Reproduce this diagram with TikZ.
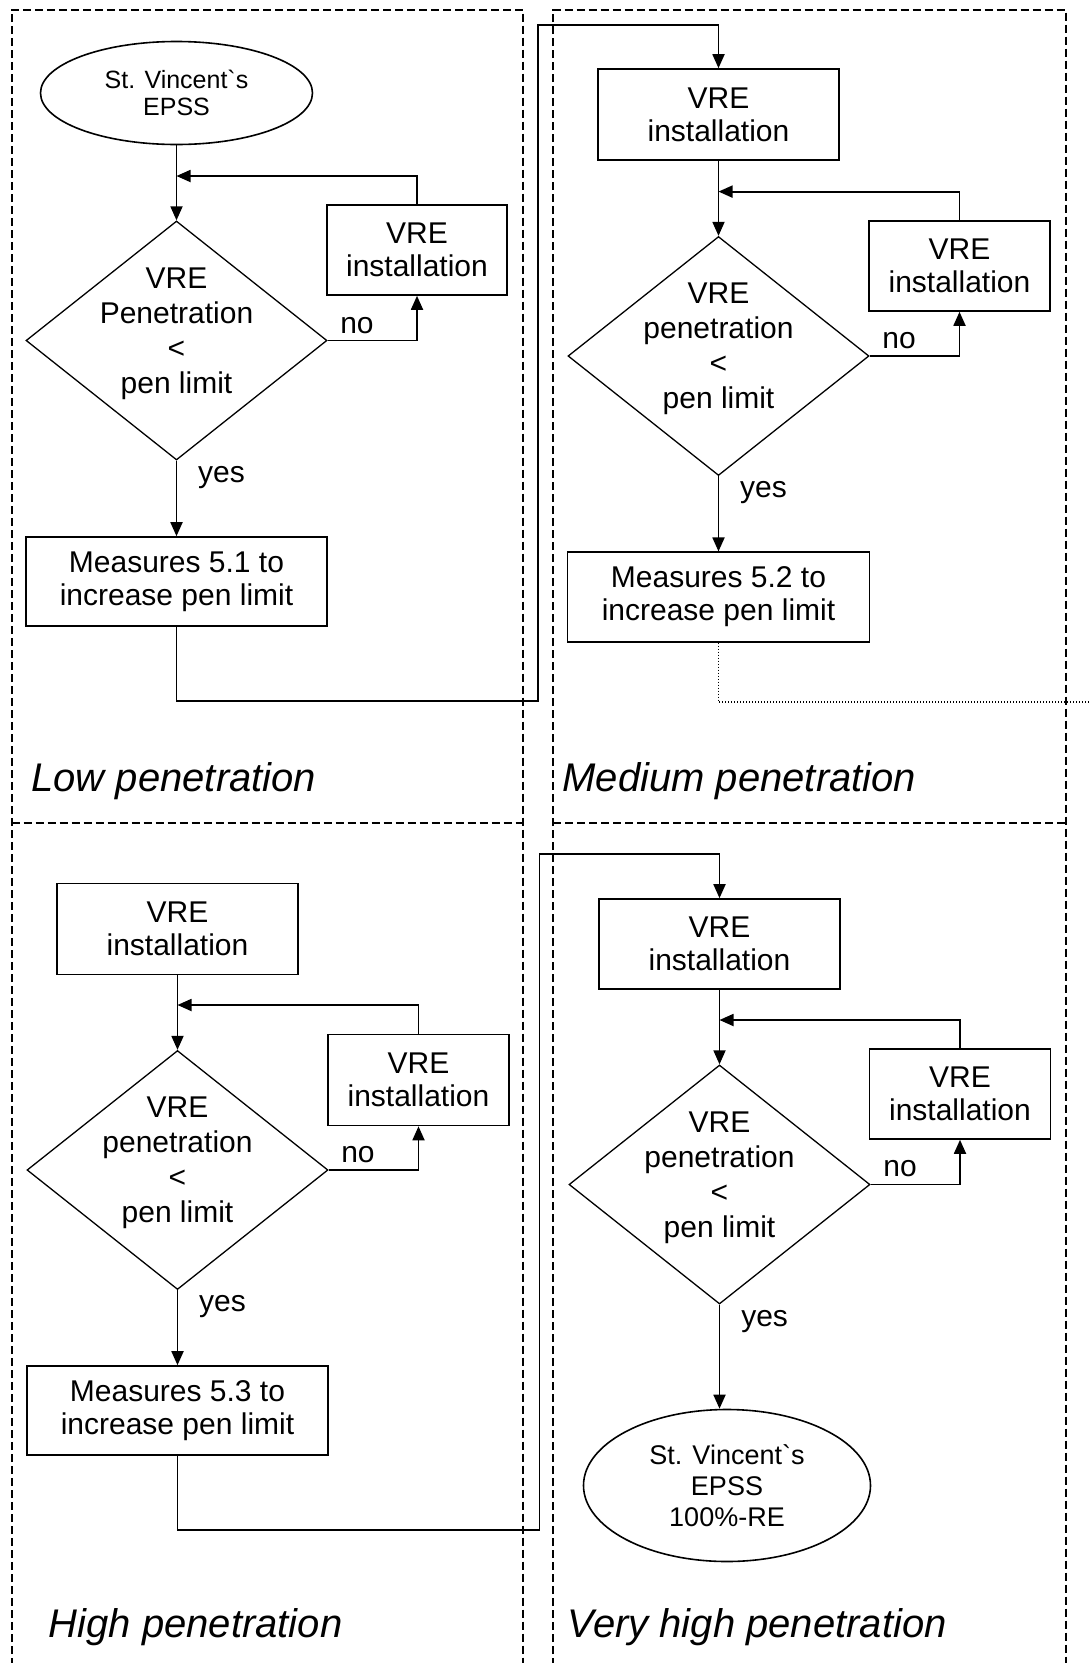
\documentclass[tikz,border=0pt]{standalone}
\usepackage{fontspec}
\setmainfont{Liberation Sans}
\usetikzlibrary{shapes.geometric,arrows.meta}
\begin{document}
\begin{tikzpicture}[x=1pt,y=-1pt,
  panel/.style={draw, line width=2pt, dash pattern=on 8pt off 4pt},
  box/.style={draw, rectangle, line width=1.6pt, inner sep=0pt, align=center, font=\fontsize{30}{33}\selectfont},
  dec/.style={draw, diamond, line width=1.3pt, inner sep=0pt, minimum width=301pt, minimum height=239pt},
  dectext/.style={align=center, inner sep=0pt, yshift=7pt, font=\fontsize{30}{35}\selectfont},
  term/.style={draw, ellipse, line width=1.6pt, inner sep=0pt, align=center},
  conn/.style={line width=1.8pt, -{Triangle[length=14pt,width=12pt]}},
  dotline/.style={line width=1.3pt, dash pattern=on 1.3pt off 1.7pt},
  lbl/.style={font=\fontsize{30}{33}\selectfont, anchor=base, inner sep=0pt},
  ptitle/.style={font=\fontsize{40}{44}\selectfont\itshape, anchor=base west, inner sep=0pt}
]
\useasboundingbox (0,0) rectangle (1089,1663);
\clip (0,0) rectangle (1089,1663);

% panels
\draw[panel] (11.5,1690) -- (11.5,9.5) -- (523,9.5) -- (523,1690);
\draw[panel] (553,1690) -- (553,9.5) -- (1065.5,9.5) -- (1065.5,1690);
\draw[panel] (11.5,823) -- (523,823);
\draw[panel] (553,823) -- (1065.5,823);

% ---------- Low penetration ----------
\node[term, minimum width=272pt, minimum height=103pt, font=\fontsize{25}{27}\selectfont] (e1) at (176.5,93) {St. Vincent\textasciigrave s\\EPSS};
\node[dec] (d1) at (176.5,340.5) {};
\node[dectext] (d1t) at (d1.center) {VRE\\Penetration\\<\\pen limit};
\node[box, minimum width=180pt, minimum height=90pt] (s1) at (417,250) {VRE\\installation};
\node[box, minimum width=301pt, minimum height=89pt] (m1) at (176.5,581.5) {Measures 5.1 to\\increase pen limit};
\coordinate (j1) at (176.5,176);
\draw[conn] (e1.south) -- (d1.north);
\draw[conn] (s1.north) |- (j1);
\draw[conn] (d1.east) -| (s1.south);
\draw[conn] (d1.south) -- (m1.north);
\node[lbl] (no1) at (357,333) {no};
\node[lbl] (yes1) at (221.5,482.7) {yes};
\node[ptitle] (p1) at (31.3,791.3) {Low penetration};

% ---------- Medium penetration ----------
\node[box, minimum width=241pt, minimum height=91pt] (t2) at (718.5,114.5) {VRE\\installation};
\node[dec] (d2) at (718.5,356) {};
\node[dectext] (d2t) at (d2.center) {VRE\\penetration\\<\\pen limit};
\node[box, minimum width=181pt, minimum height=90pt] (s2) at (959.5,266) {VRE\\installation};
\node[box, minimum width=302pt, minimum height=89.5pt] (m2) at (718.5,597) {Measures 5.2 to\\increase pen limit};
\coordinate (j2) at (718.5,191.6);
\draw[conn] (t2.south) -- (d2.north);
\draw[conn] (s2.north) |- (j2);
\draw[conn] (d2.east) -| (s2.south);
\draw[conn] (d2.south) -- (m2.north);
\node[lbl] (no2) at (899,348) {no};
\node[lbl] (yes2) at (763.5,497.5) {yes};
\node[ptitle] (p2) at (562.4,791.3) {Medium penetration};
\coordinate (c1) at (538,701);
\coordinate (c2) at (538,25);
\draw[conn] (m1.south) |- (c1) -- (c2) -| (t2.north);
\coordinate (c3) at (1095,702);
\draw[dotline] (m2.south) |- (c3);

% ---------- High penetration ----------
\node[box, minimum width=241pt, minimum height=91pt] (t3) at (177.5,929) {VRE\\installation};
\node[dec] (d3) at (177.5,1170) {};
\node[dectext] (d3t) at (d3.center) {VRE\\penetration\\<\\pen limit};
\node[box, minimum width=181pt, minimum height=91pt] (s3) at (418.5,1080) {VRE\\installation};
\node[box, minimum width=301pt, minimum height=89pt] (m3) at (177.5,1410.5) {Measures 5.3 to\\increase pen limit};
\coordinate (j3) at (177.5,1005);
\draw[conn] (t3.south) -- (d3.north);
\draw[conn] (s3.north) |- (j3);
\draw[conn] (d3.east) -| (s3.south);
\draw[conn] (d3.south) -- (m3.north);
\node[lbl] (no3) at (358,1162) {no};
\node[lbl] (yes3) at (222.5,1311.6) {yes};
\node[ptitle] (p3) at (48.7,1637) {High penetration};

% ---------- Very high penetration ----------
\node[box, minimum width=241pt, minimum height=90pt] (t4) at (719.5,944) {VRE\\installation};
\node[dec] (d4) at (719.5,1184.5) {};
\node[dectext] (d4t) at (d4.center) {VRE\\penetration\\<\\pen limit};
\node[box, minimum width=181pt, minimum height=90pt] (s4) at (960,1094) {VRE\\installation};
\node[term, minimum width=287pt, minimum height=152pt, font=\fontsize{27}{31}\selectfont] (e4) at (727,1485.5) {St. Vincent\textasciigrave s\\EPSS\\100\%-RE};
\coordinate (j4) at (719.5,1020);
\draw[conn] (t4.south) -- (d4.north);
\draw[conn] (s4.north) |- (j4);
\draw[conn] (d4.east) -| (s4.south);
\draw[conn] (d4.south) -- (d4.south |- e4.north);
\node[lbl] (no4) at (900,1176.6) {no};
\node[lbl] (yes4) at (764.6,1326.6) {yes};
\node[ptitle] (p4) at (567.6,1637) {Very high penetration};
\coordinate (c4) at (539.5,1530);
\coordinate (c5) at (539.5,854);
\draw[conn] (m3.south) |- (c4) -- (c5) -| (t4.north);
\end{tikzpicture}
\end{document}
